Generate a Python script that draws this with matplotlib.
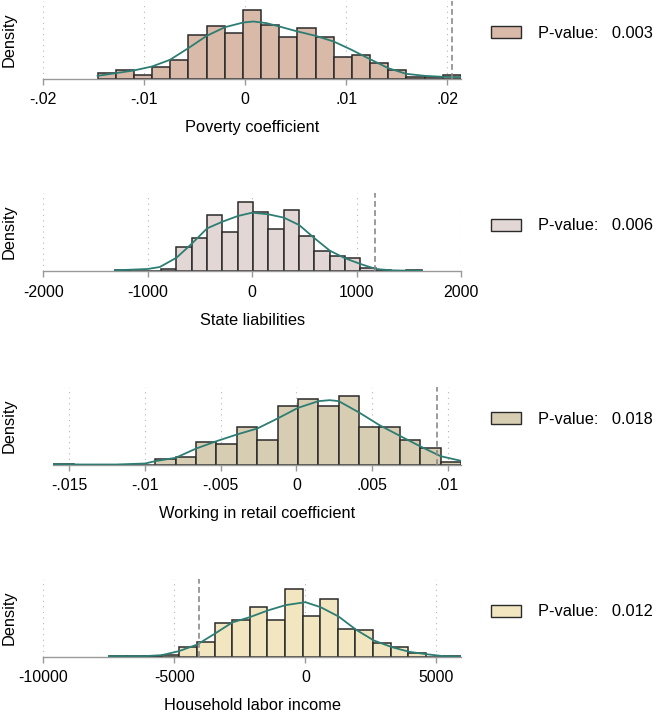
import numpy as np
import matplotlib
matplotlib.use("Agg")
import matplotlib.pyplot as plt
from matplotlib.patches import Patch

plt.rcParams['font.family'] = ['Liberation Sans', 'DejaVu Sans']

# panel labels / colours
titles = ["Poverty coefficient", "State liabilities",
          "Working in retail coefficient", "Household labor income"]
pvalues = ["0.003", "0.006", "0.018", "0.012"]
fills = ["#D9B9A8", "#E2D7D5", "#D6CDB2", "#F1E6C0"]

# histogram bins (start, width) and heights (density, arbitrary units)
bin_start = [-0.01462, -1315, -0.01605, -7490]
bin_width = [0.001799, 146.85, 0.001346, 671.5]
heights1 = [16, 25, 10, 35, 55, 131, 156, 136, 205, 160, 125, 151, 125, 65, 70, 47, 25, 5, 4, 10]
heights2 = [2, 0, 0, 5, 72, 100, 168, 118, 206, 176, 126, 182, 104, 60, 44, 40, 9, 2, 0, 2]
heights3 = [1, 0, 0, 0, 0, 16, 24, 67, 61, 112, 75, 177, 197, 177, 207, 112, 112, 75, 51, 9]
heights4 = [2, 1, 2, 6, 28, 45, 102, 109, 148, 110, 204, 123, 174, 84, 80, 42, 28, 12, 0, 2]

# kernel density curves
kde1_x = [-0.01462, -0.01283, -0.01105, -0.00924, -0.00746, -0.00564, -0.00382, -0.00201,
          -0.00020, 0.00080, 0.00211, 0.00337, 0.00519, 0.00697, 0.00875, 0.01053,
          0.01235, 0.01416, 0.01594, 0.01776, 0.01957, 0.02136]
kde1_y = [8, 16, 24, 36, 56, 91, 128, 154, 168, 171, 166, 156, 141, 128, 111, 86, 58, 31, 14, 8, 5, 4]
kde2_x = [-1315, -1002, -884, -724, -578, -431, -284, -137, 0, 157, 304, 450, 598, 744,
          891, 1038, 1185, 1331, 1479, 1622]
kde2_y = [2, 6, 12, 40, 82, 128, 148, 165, 175, 170, 160, 138, 98, 61, 38, 21, 6, 2, 1, 1]
kde3_x = [-0.01605, -0.01411, -0.01190, -0.00999, -0.00933, -0.00798, -0.00661, -0.00527,
          -0.00393, -0.00258, -0.00124, 0.00011, 0.00145, 0.00220, 0.00280, 0.00414,
          0.00549, 0.00683, 0.00820, 0.00952, 0.01087]
kde3_y = [1, 0, 0, 3, 10, 20, 48, 70, 90, 108, 138, 170, 190, 193, 190, 156, 118, 86, 54, 25, 11]
kde4_x = [-7490, -6158, -5484, -4825, -4124, -3465, -2791, -2121, -1436, -762, 0, 583,
          1268, 1942, 2616, 3302, 3972, 4608, 5266, 5940]
kde4_y = [1, 1, 4, 16, 36, 68, 102, 118, 138, 154, 163, 148, 120, 80, 48, 28, 14, 7, 1, 0]

observed = [0.02047, 1178, 0.00926, -4050]

xlims = [(-0.02, 0.02136), (-2000, 2000), (-0.01605, 0.01087), (-10000, 5940)]
xticks = [[-0.02, -0.01, 0, 0.01, 0.02],
          [-2000, -1000, 0, 1000, 2000],
          [-0.015, -0.01, -0.005, 0, 0.005, 0.01],
          [-10000, -5000, 0, 5000]]
xticklabels = [["-.02", "-.01", "0", ".01", ".02"],
               ["-2000", "-1000", "0", "1000", "2000"],
               ["-.015", "-.01", "-.005", "0", ".005", ".01"],
               ["-10000", "-5000", "0", "5000"]]

heights = [heights1, heights2, heights3, heights4]
kdes = [(kde1_x, kde1_y), (kde2_x, kde2_y), (kde3_x, kde3_y), (kde4_x, kde4_y)]

W, H = 653, 719
fig = plt.figure(figsize=(W / 100, H / 100), dpi=100)

baselines = [78.5, 271, 464.5, 656.5]
lefts = [43.3, 43.3, 53.3, 43.3]
right = 461
ax_h = 78
legend_y = [33, 226, 419, 612]

for i in range(4):
    ax = fig.add_axes([lefts[i] / W, (H - baselines[i]) / H,
                       (right - lefts[i]) / W, ax_h / H])
    n = len(heights[i])
    edges = bin_start[i] + bin_width[i] * np.arange(n)
    for t in xticks[i]:
        ax.axvline(t, color="#b5b5b5", lw=0.8, ls=(0, (1, 4)), zorder=0)
    ax.bar(edges, heights[i], width=bin_width[i], align="edge",
           color=fills[i], edgecolor="#2a2a2a", linewidth=1.1, zorder=2)
    ax.plot(kdes[i][0], kdes[i][1], color="#2D7D73", lw=1.3, zorder=3)
    ax.axvline(observed[i], color="#8a8a8a", lw=1.2, ls=(0, (3.5, 2)), zorder=4)

    ax.set_xlim(*xlims[i])
    ax.set_ylim(0, 234)
    ax.set_xticks(xticks[i])
    ax.set_xticklabels(xticklabels[i])
    ax.set_yticks([])
    for s in ["top", "right", "left"]:
        ax.spines[s].set_visible(False)
    ax.spines["bottom"].set_color("#999999")
    ax.spines["bottom"].set_linewidth(1.0)
    ax.tick_params(axis="x", direction="out", length=4.3, width=1.0,
                   color="#999999", pad=5.5, labelsize=11.4)
    ax.set_xlabel(titles[i], fontsize=11.8, labelpad=9.5)
    ax.set_ylabel("Density", fontsize=11.8)
    ax.yaxis.set_label_coords((17 - lefts[i]) / (right - lefts[i]), 0.5)
    ax.patch.set_alpha(0)

    handle = Patch(facecolor=fills[i], edgecolor="#2a2a2a", linewidth=1.0)
    ax.legend([handle], ["P-value:   " + pvalues[i]], loc="center left",
              bbox_to_anchor=(490.7 / W, (H - legend_y[i]) / H),
              bbox_transform=fig.transFigure, frameon=False,
              fontsize=11.8, borderpad=0, borderaxespad=0,
              handlelength=1.83, handleheight=0.73, handletextpad=1.04)

fig.savefig("out.png", dpi=100)
